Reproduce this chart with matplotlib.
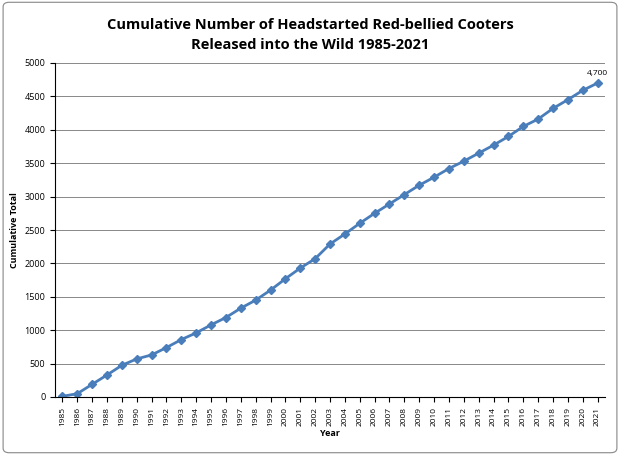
import matplotlib
matplotlib.use("Agg")
import matplotlib.pyplot as plt
from matplotlib.patches import FancyBboxPatch

years = list(range(1985, 2022))
totals = [10, 50, 190, 330, 475, 570, 630, 740, 860, 960, 1080, 1190, 1330, 1450, 1600,
          1770, 1930, 2070, 2290, 2440, 2600, 2750, 2890, 3030, 3170, 3290, 3420, 3530,
          3650, 3770, 3900, 4050, 4160, 4320, 4450, 4590, 4700]

plt.rcParams["font.family"] = "Open Sans"
fig = plt.figure(figsize=(6.2, 4.55), dpi=100)
fig.patches.append(FancyBboxPatch((0.005, 0.005), 0.99, 0.99, boxstyle="round,pad=0,rounding_size=0.01",
                                  transform=fig.transFigure, fill=False, edgecolor="#888888", lw=0.8))
ax = fig.add_axes([55/620, 1-397/455, 550/620, 334/455])
ax.plot(years, totals, color="#4a7ebb", lw=2, marker="D", ms=4)
ax.set_xlim(1984.5, 2021.5)
ax.set_ylim(0, 5000)
ax.set_yticks(range(0, 5001, 500))
ax.set_xticks(years)
ax.set_xticklabels([str(y) for y in years], rotation=90, fontsize=6)
ax.tick_params(axis="y", labelsize=6.5)
ax.grid(axis="y", color="#888888", lw=0.7)
ax.set_axisbelow(True)
for s in ["top", "right"]:
    ax.spines[s].set_visible(False)
ax.set_xlabel("Year", fontsize=6.5, fontweight="bold", labelpad=2)
ax.set_ylabel("Cumulative Total", fontsize=6.5, fontweight="bold")
ax.annotate("4,700", (years[-1], totals[-1]), xytext=(0, 6), textcoords="offset points",
            ha="center", fontsize=6)
fig.text(0.5, 1-25/455, "Cumulative Number of Headstarted Red-bellied Cooters", ha="center", va="center",
         fontsize=10.5, fontweight="bold")
fig.text(0.5, 1-45/455, "Released into the Wild 1985-2021", ha="center", va="center",
         fontsize=10.5, fontweight="bold")
fig.savefig("out.png", dpi=100)
